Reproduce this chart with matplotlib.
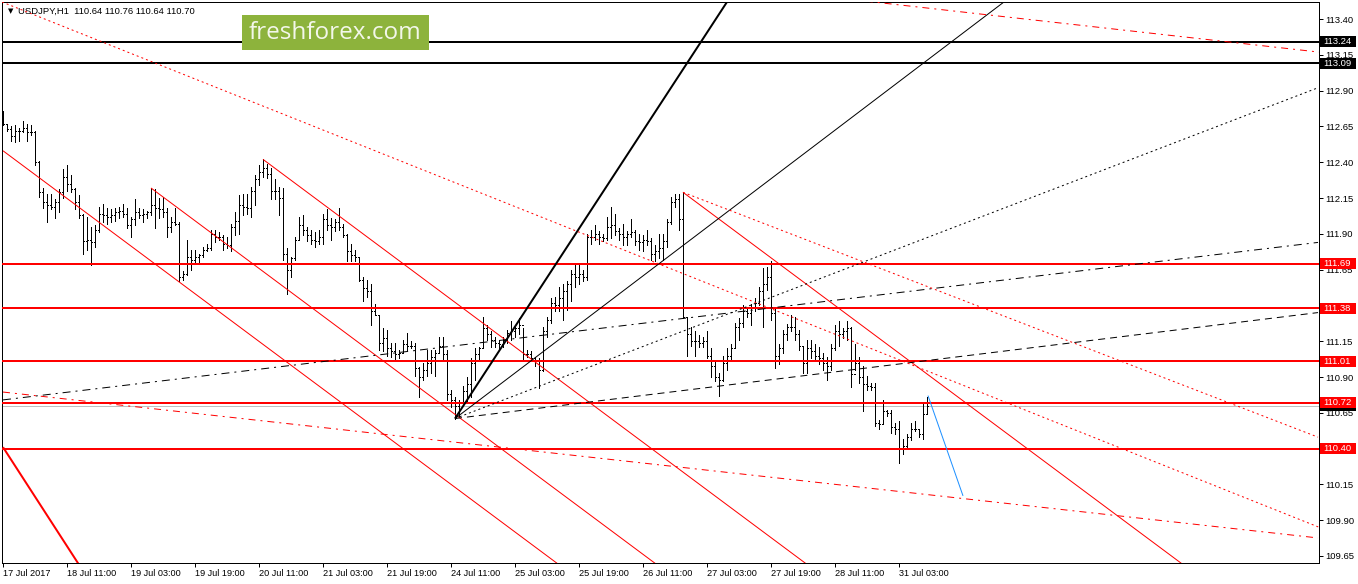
import numpy as np
import matplotlib
matplotlib.use('Agg')
import matplotlib.pyplot as plt
from matplotlib.collections import LineCollection
from matplotlib.patches import Rectangle
from matplotlib.transforms import blended_transform_factory

# USDJPY H1, bar 0 = 17 Jul 2017 19:00, last bar = 31 Jul 10:00
first_open = 112.70
highs = [
    112.76, 112.67, 112.65, 112.66, 112.64, 112.69, 112.67, 112.66, 112.62, 112.41,
    112.22, 112.18, 112.18, 112.14, 112.21, 112.35, 112.38, 112.31, 112.22, 112.17,
    112.04, 112.02, 111.95, 111.96, 112.09, 112.11, 112.08, 112.07, 112.08, 112.09,
    112.11, 112.08, 112.02, 112.14, 112.08, 112.07, 112.06, 112.22, 112.21, 112.15,
    112.16, 112.08, 112.02, 112.08, 111.98, 111.64, 111.86, 111.79, 111.79, 111.76,
    111.81, 111.83, 111.93, 111.93, 111.91, 111.89, 111.88, 111.97, 112.05, 112.17,
    112.18, 112.18, 112.23, 112.31, 112.38, 112.42, 112.39, 112.36, 112.28, 112.23,
    112.22, 111.80, 111.74, 111.88, 112.02, 112.03, 111.95,
    111.93, 111.91, 111.93, 112.04, 112.07, 112.01, 112.00, 112.08, 111.97, 111.90,
    111.83, 111.79, 111.74, 111.60, 111.58, 111.55, 111.41, 111.33, 111.24, 111.23,
    111.14, 111.14, 111.09, 111.16, 111.21, 111.15, 111.14, 110.97, 111.00, 111.09,
    111.09, 111.09, 111.18, 111.18, 111.09, 110.81, 110.76, 110.74,
    110.84, 110.90, 111.03, 111.10, 111.11, 111.32, 111.26, 111.22, 111.18, 111.16,
    111.18, 111.23, 111.29, 111.25, 111.31, 111.24, 111.09, 111.08, 111.04, 111.03,
    111.25, 111.32, 111.45, 111.46, 111.53, 111.55, 111.57, 111.65, 111.69, 111.69,
    111.65, 111.90, 111.93, 111.96, 111.92, 111.90, 112.02,
    112.09, 112.04, 111.94, 111.97, 111.92, 112.00, 111.93, 111.90, 111.89, 111.93,
    111.87, 111.82, 111.90, 111.90, 112.00, 112.16, 112.18, 112.18, 112.19, 111.32,
    111.25, 111.22, 111.19, 111.18, 111.22, 111.10, 111.02, 110.93, 111.05, 111.10,
    111.13, 111.28, 111.31, 111.40, 111.38, 111.41, 111.45, 111.53, 111.66, 111.67,
    111.71, 111.39, 111.13, 111.23, 111.27, 111.33, 111.32, 111.23, 111.12, 111.16,
    111.16, 111.13, 111.11, 111.07, 111.04, 111.13, 111.26, 111.29, 111.24, 111.29,
    111.25, 111.13, 111.04, 110.98, 110.91, 110.86, 110.86, 110.60, 110.74, 110.67,
    110.67, 110.58, 110.59, 110.47, 110.50, 110.58, 110.59, 110.53, 110.72, 110.76,
]
lows = [
    112.66, 112.62, 112.55, 112.54, 112.55, 112.61, 112.55, 112.59, 112.38, 112.16,
    112.08, 111.98, 112.07, 112.01, 112.05, 112.15, 112.20, 112.19, 112.07, 112.01,
    111.76, 111.79, 111.68, 111.81, 111.91, 111.98, 111.97, 111.98, 111.99, 112.01,
    112.02, 111.94, 111.88, 111.96, 112.01, 111.98, 112.01, 112.03, 111.94, 112.01,
    112.02, 111.88, 111.91, 111.96, 111.57, 111.58, 111.61, 111.65, 111.69, 111.69,
    111.74, 111.78, 111.79, 111.84, 111.86, 111.79, 111.80, 111.78, 111.89, 111.90,
    112.03, 112.04, 112.02, 112.10, 112.24, 112.30, 112.29, 112.14, 112.14, 112.03,
    111.72, 111.48, 111.60, 111.72, 111.86, 111.89, 111.85,
    111.83, 111.81, 111.83, 111.83, 111.93, 111.86, 111.92, 111.93, 111.88, 111.71,
    111.71, 111.71, 111.57, 111.43, 111.46, 111.26, 111.33, 111.09, 111.08, 111.05,
    111.04, 111.01, 111.03, 111.07, 111.09, 111.10, 110.91, 110.76, 110.88, 110.91,
    110.93, 110.91, 111.07, 111.02, 110.74, 110.69, 110.61, 110.62,
    110.72, 110.72, 110.76, 110.88, 111.02, 111.10, 111.16, 111.11, 111.11, 111.09,
    111.11, 111.14, 111.16, 111.18, 111.20, 111.02, 111.04, 111.02, 110.98, 110.82,
    110.94, 111.18, 111.28, 111.36, 111.36, 111.30, 111.37, 111.43, 111.53, 111.55,
    111.57, 111.58, 111.83, 111.86, 111.83, 111.85, 111.86,
    111.87, 111.89, 111.86, 111.82, 111.82, 111.88, 111.82, 111.79, 111.78, 111.82,
    111.72, 111.71, 111.73, 111.72, 111.81, 111.97, 112.09, 111.93, 111.31, 111.05,
    111.12, 111.05, 111.11, 111.11, 111.03, 110.90, 110.87, 110.77, 110.87, 110.95,
    111.02, 111.10, 111.16, 111.25, 111.32, 111.26, 111.36, 111.40, 111.25, 111.51,
    111.30, 110.96, 110.99, 111.07, 111.16, 111.22, 111.16, 111.09, 110.93, 110.93,
    111.03, 111.02, 110.99, 110.95, 110.88, 110.95, 111.09, 111.12, 111.17, 111.16,
    110.83, 110.95, 110.86, 110.66, 110.81, 110.81, 110.56, 110.54, 110.58, 110.63,
    110.51, 110.50, 110.30, 110.36, 110.40, 110.46, 110.52, 110.48, 110.47, 110.64,
]
closes = [
    112.67, 112.63, 112.58, 112.62, 112.62, 112.64, 112.61, 112.61, 112.40, 112.19,
    112.12, 112.10, 112.09, 112.12, 112.19, 112.30, 112.25, 112.21, 112.12, 112.03,
    111.85, 111.86, 111.84, 111.93, 112.04, 112.03, 112.02, 112.03, 112.05, 112.06,
    112.04, 111.96, 112.00, 112.05, 112.03, 112.04, 112.05, 112.10, 112.08, 112.07,
    112.05, 111.95, 111.98, 111.97, 111.60, 111.62, 111.74, 111.72, 111.74, 111.75,
    111.79, 111.80, 111.90, 111.88, 111.88, 111.83, 111.82, 111.95, 111.99, 112.10,
    112.09, 112.08, 112.20, 112.28, 112.33, 112.36, 112.32, 112.20, 112.20, 112.15,
    111.76, 111.65, 111.73, 111.86, 111.96, 111.93, 111.89,
    111.86, 111.85, 111.88, 112.00, 111.96, 111.95, 111.98, 111.95, 111.89, 111.78,
    111.75, 111.74, 111.58, 111.52, 111.50, 111.36, 111.33, 111.14, 111.17, 111.10,
    111.08, 111.06, 111.07, 111.13, 111.12, 111.12, 110.96, 110.90, 110.95, 111.00,
    111.04, 111.07, 111.12, 111.06, 110.78, 110.74, 110.70, 110.72,
    110.80, 110.85, 111.00, 111.06, 111.10, 111.24, 111.20, 111.16, 111.14, 111.13,
    111.16, 111.21, 111.22, 111.24, 111.26, 111.06, 111.06, 111.03, 111.02, 110.95,
    111.22, 111.30, 111.42, 111.40, 111.45, 111.50, 111.55, 111.62, 111.60, 111.62,
    111.60, 111.88, 111.88, 111.90, 111.88, 111.87, 111.95,
    111.96, 111.92, 111.90, 111.88, 111.90, 111.91, 111.85, 111.84, 111.86, 111.85,
    111.76, 111.78, 111.80, 111.85, 111.98, 112.12, 112.14, 112.00, 111.32, 111.20,
    111.15, 111.15, 111.14, 111.15, 111.05, 110.98, 110.90, 110.88, 111.00, 111.05,
    111.10, 111.25, 111.28, 111.36, 111.35, 111.38, 111.42, 111.50, 111.55, 111.60,
    111.35, 111.05, 111.10, 111.20, 111.25, 111.25, 111.20, 111.12, 111.00, 111.10,
    111.08, 111.05, 111.03, 111.00, 110.98, 111.10, 111.22, 111.20, 111.22, 111.24,
    110.92, 111.00, 110.90, 110.85, 110.84, 110.83, 110.58, 110.57, 110.66, 110.65,
    110.55, 110.54, 110.40, 110.42, 110.48, 110.54, 110.54, 110.50, 110.64, 110.70,
]
opens = [first_open] + closes[:-1]

tick_bars = [0, 16, 32, 48, 64, 80, 96, 112, 128, 144, 160, 176, 192, 208, 224]
tick_texts = ['17 Jul 2017', '18 Jul 11:00', '19 Jul 03:00', '19 Jul 19:00',
              '20 Jul 11:00', '21 Jul 03:00', '21 Jul 19:00', '24 Jul 11:00',
              '25 Jul 03:00', '25 Jul 19:00', '26 Jul 11:00', '27 Jul 03:00',
              '27 Jul 19:00', '28 Jul 11:00', '31 Jul 03:00']
price_ticks = [109.65, 109.90, 110.15, 110.40, 110.65, 110.90, 111.15, 111.40,
               111.65, 111.90, 112.15, 112.40, 112.65, 112.90, 113.15, 113.40]

red_levels = [111.69, 111.38, 111.01, 110.72, 110.40]
black_levels = [113.24, 113.09]
bid = 110.70

# trendline anchors (bar index, price)
channel_slope = -0.0208
channel_starts = [(0, 112.48), (37, highs[37]), (65, highs[65]), (170, highs[170])]
steep_red = [(0, 110.41), (18.75, 109.60)]
fan_origin = (113, lows[113])
fan_thick_end = (181.25, 113.53)
fan_thin_end = (250.75, 113.53)
fan_dot_end = (328.75, 112.92)
fan_dash_end = (328.75, 111.35)
dashdot_black = [(0, 110.74), (328.75, 111.84)]
red_dot_long = [(117.25, 112.21), (191.75, 111.38)]
red_dot_short = [(170, highs[170]), (328.75, 110.48)]
red_dash_top = [(220.5, 113.51), (328.75, 113.17)]
red_dash_low = [(0, 110.795), (328.75, 109.776)]
blue_line = [(231.25, 110.77), (240, 110.07)]

W, H = 1358, 584
PX = 0.72
plt.rcParams['font.family'] = ['Liberation Sans', 'DejaVu Sans']
fig = plt.figure(figsize=(W / 100, H / 100), dpi=100)
ax = fig.add_axes([2 / W, 1 - 563 / H, 1317 / W, 561 / H])
X0, X1 = -0.25, 329.0
Y0, Y1 = 109.601, 113.519
ax.set_xlim(X0, X1)
ax.set_ylim(Y0, Y1)
for s in ax.spines.values():
    s.set_linewidth(PX)
    s.set_color('black')


def draw(p0, p1, ray=True, both=False, **kw):
    (xa, ya), (xb, yb) = p0, p1
    k = (yb - ya) / (xb - xa)
    start = X0 if both else xa
    end = X1 if ray else xb
    xs = np.array([start, end])
    ax.plot(xs, ya + k * (xs - xa), solid_capstyle='butt', **kw)


# bars
segs = []
for i in range(len(closes)):
    segs.append([(i, lows[i]), (i, highs[i])])
    segs.append([(i - 0.3, opens[i]), (i, opens[i])])
    segs.append([(i, closes[i]), (i + 0.3, closes[i])])
ax.add_collection(LineCollection(segs, colors='black', linewidths=PX,
                                 antialiased=False, zorder=3))

ax.axhline(bid, color='#c0c0c0', lw=PX, zorder=2)
for lv in red_levels:
    ax.axhline(lv, color='#ff0000', lw=2 * PX, zorder=4)
for lv in black_levels:
    ax.axhline(lv, color='black', lw=2 * PX, zorder=4)

for b, p in channel_starts:
    draw((b, p), (b + 100, p + 100 * channel_slope), color='#ff0000', lw=PX, zorder=4)
draw(steep_red[0], steep_red[1], color='#ff0000', lw=2 * PX, zorder=4)

draw(fan_origin, fan_thick_end, color='black', lw=2 * PX, zorder=4)
draw(fan_origin, fan_thin_end, color='black', lw=PX, zorder=4)
draw(fan_origin, fan_dot_end, ray=False, color='black', lw=PX, dashes=(2, 3), zorder=4)
draw(fan_origin, fan_dash_end, ray=False, color='black', lw=PX, dashes=(7, 5), zorder=4)
draw(dashdot_black[0], dashdot_black[1], ray=False, color='black', lw=PX,
     dashes=(8, 5, 2, 5), zorder=4)

draw(red_dot_long[0], red_dot_long[1], both=True, color='#ff0000', lw=PX,
     dashes=(2, 3), zorder=4)
draw(red_dot_short[0], red_dot_short[1], ray=False, color='#ff0000', lw=PX,
     dashes=(2, 3), zorder=4)
draw(red_dash_top[0], red_dash_top[1], both=True, color='#ff0000', lw=PX,
     dashes=(7, 5, 2, 5), zorder=4)
draw(red_dash_low[0], red_dash_low[1], ray=False, color='#ff0000', lw=PX,
     dashes=(7, 5, 2, 5), zorder=4)
draw(blue_line[0], blue_line[1], ray=False, color='#1e90ff', lw=PX, zorder=5)

# axes ticks
ax.yaxis.tick_right()
ax.set_yticks(price_ticks)
ax.set_yticklabels(['%.2f' % v for v in price_ticks], fontsize=6.8)
ax.set_xticks(tick_bars)
ax.set_xticklabels(tick_texts, fontsize=6.6, ha='left')
ax.tick_params(axis='both', direction='out', length=3, width=PX, colors='black', pad=1.5)

# price boxes on the right axis
trans = blended_transform_factory(fig.transFigure, ax.transData)
box_h = 11 * (Y1 - Y0) / 561
boxes = [(113.24, 'black'), (113.09, 'black'), (111.69, '#ff0000'), (111.38, '#ff0000'),
         (111.01, '#ff0000'), (bid, 'black'), (110.72, '#ff0000'), (110.40, '#ff0000')]
for z, (v, c) in enumerate(boxes):
    ax.add_patch(Rectangle((1320 / W, v - box_h / 2), 36 / W, box_h, transform=trans,
                           facecolor=c, edgecolor='none', clip_on=False, zorder=10 + z))
    ax.text(1323 / W, v, '%.2f' % v, transform=trans, color='white', fontsize=6.8,
            va='center', ha='left', clip_on=False, zorder=10.5 + z)

# header
fig.text(8 / W, 1 - 11 / H, '\u25bc', fontsize=5, family='DejaVu Sans', va='center')
fig.text(18 / W, 1 - 11 / H, 'USDJPY,H1  110.64 110.76 110.64 110.70', fontsize=6.8,
         va='center', ha='left')

# logo
fig.add_artist(Rectangle((242 / W, 1 - 50 / H), 187 / W, 35 / H, transform=fig.transFigure,
                         facecolor='#8db33c', edgecolor='none', zorder=20))
fig.text(335 / W, 1 - 33 / H, 'freshforex.com', fontsize=17.5, family='Open Sans',
         color='#f3f7ea', ha='center', va='center', zorder=21)

fig.savefig('out.png', dpi=100)
